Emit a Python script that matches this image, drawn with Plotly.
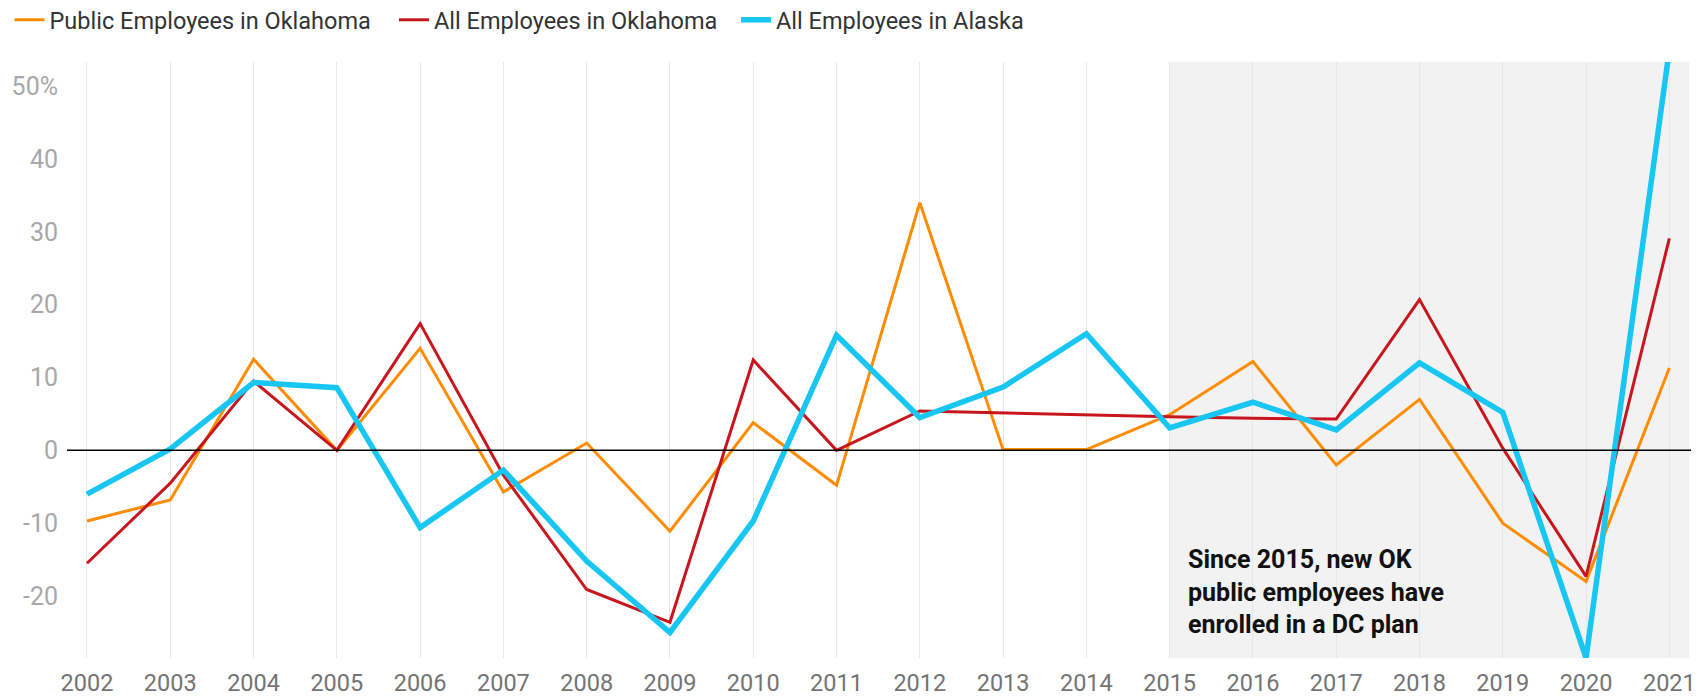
import plotly.graph_objects as go

years = list(range(2002, 2022))
public_ok = [-9.7, -6.8, 12.5, 0.0, 14.0, -5.7, 1.0, -11.1, 3.8, -4.8, 34.0, 0.1, 0.1, 4.9, 12.2, -2.0, 7.0, -10.0, -18.0, 11.3]
all_ok = [-15.5, -4.5, 9.5, 0.0, 17.4, -3.4, -19.1, -23.6, 12.4, 0.0, 5.4, 5.1, 4.9, 4.6, 4.4, 4.3, 20.7, 0.3, -17.3, 29.1]
all_ak = [-6.0, 0.2, 9.3, 8.6, -10.6, -2.7, -15.2, -25.0, -9.7, 15.8, 4.5, 8.7, 16.0, 3.1, 6.6, 2.8, 12.0, 5.2, -28.5, 55.0]

names = ["Public Employees in Oklahoma", "All Employees in Oklahoma", "All Employees in Alaska"]
colors = ["#FF8C00", "#C8161E", "#17C6F2"]
widths = [3, 3, 5.5]
y_tickvals = [50, 40, 30, 20, 10, 0, -10, -20]
y_ticktext = ["50%", "40", "30", "20", "10", "0", "-10", "-20"]
note = "Since 2015, new OK<br>public employees have<br>enrolled in a DC plan"
shade_start = 2015

W, H = 1689, 689
legend_ids = ["legend", "legend2", "legend3"]
legend_px = [1.5, 386, 728]

fig = go.Figure()
for vals, name, col, w, lid in zip([public_ok, all_ok, all_ak], names, colors, widths, legend_ids):
    fig.add_trace(go.Scatter(x=years, y=vals, name=name, mode="lines",
                             line=dict(color=col, width=w), legend=lid))

fig.add_shape(type="rect", xref="x", yref="paper", x0=shade_start, x1=2021.24, y0=0, y1=1,
              fillcolor="#F2F2F2", line=dict(width=0), layer="below")
fig.add_shape(type="line", xref="paper", yref="y", x0=0, x1=1, y0=0, y1=0,
              line=dict(color="black", width=1.5))

fig.add_annotation(text=note, xref="paper", yref="paper", x=0.6889, y=0.111,
                   xanchor="left", yanchor="middle", align="left", showarrow=False,
                   font=dict(family="Roboto", size=25, color="#111111", weight="bold"))

legend_common = dict(orientation="h", xanchor="left", yanchor="middle",
                     xref="container", yref="container",
                     font=dict(size=23.5, color="#333333"), itemwidth=30)
layout_legends = {}
for lid, px in zip(legend_ids, legend_px):
    layout_legends[lid] = dict(legend_common, x=px / W, y=1 - 12 / H)

fig.update_layout(
    width=W, height=H,
    margin=dict(l=59, r=6, t=54, b=39, autoexpand=False),
    paper_bgcolor="white", plot_bgcolor="white",
    font=dict(family="Roboto", size=22, color="#666666"),
    showlegend=True,
    **layout_legends,
)
fig.update_xaxes(range=[2001.76, 2021.26], tickvals=years, ticktext=[str(y) for y in years],
                 showgrid=True, gridcolor="#E6E6E6", gridwidth=1, zeroline=False,
                 showline=False, ticks="", automargin=False, ticklabelstandoff=8,
                 tickfont=dict(size=23.5, color="#747474"))
fig.update_yaxes(range=[-28.5, 53.3], tickvals=y_tickvals, ticktext=y_ticktext,
                 showgrid=False, zeroline=False, showline=False, ticks="", automargin=False,
                 ticklabelstandoff=8, tickfont=dict(size=25, color="#A8A8A8"))

fig.write_html("out.html")
